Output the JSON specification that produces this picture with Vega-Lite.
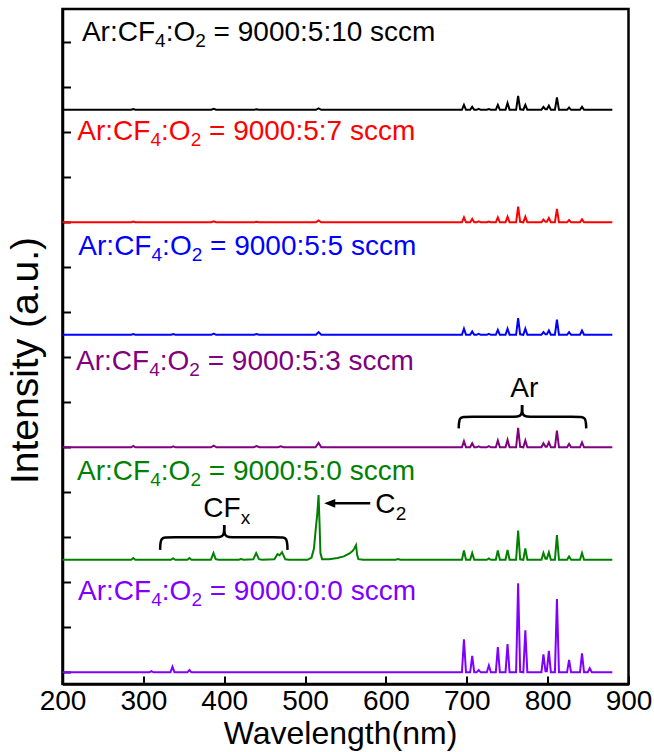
{
  "$schema": "https://vega.github.io/schema/vega-lite/v6.json",
  "width": 566,
  "height": 675,
  "autosize": {"type": "none"},
  "padding": {"left": 62.5, "top": 9, "right": 25.5, "bottom": 68},
  "background": "white",
  "config": {
    "font": "Liberation Sans",
    "view": {"stroke": "black", "strokeWidth": 2.5},
    "axis": {
      "grid": false,
      "domainColor": "black",
      "domainWidth": 2.5,
      "tickColor": "black",
      "tickWidth": 2,
      "tickSize": -8,
      "labelColor": "black",
      "labelFlush": false,
      "labelOverlap": false,
      "titleColor": "black",
      "titleFontWeight": "normal",
      "labelFont": "Liberation Sans",
      "titleFont": "Liberation Sans"
    }
  },
  "datasets": {
    "spectra": [
      {"s":"9000:5:10","wl":200,"i":25},
      {"s":"9000:5:10","wl":285,"i":25},{"s":"9000:5:10","wl":287.5,"i":25.03},{"s":"9000:5:10","wl":290,"i":25},
      {"s":"9000:5:10","wl":384,"i":25},{"s":"9000:5:10","wl":387,"i":25.04},{"s":"9000:5:10","wl":390,"i":25},
      {"s":"9000:5:10","wl":437,"i":25},{"s":"9000:5:10","wl":440,"i":25.02},{"s":"9000:5:10","wl":443,"i":25},
      {"s":"9000:5:10","wl":513.5,"i":25},{"s":"9000:5:10","wl":516.7,"i":25.06},{"s":"9000:5:10","wl":520,"i":25},
      {"s":"9000:5:10","wl":694,"i":25},{"s":"9000:5:10","wl":696.5,"i":25.22},{"s":"9000:5:10","wl":699,"i":25},
      {"s":"9000:5:10","wl":704.2,"i":25},{"s":"9000:5:10","wl":706.7,"i":25.13},{"s":"9000:5:10","wl":709.2,"i":25},
      {"s":"9000:5:10","wl":712.2,"i":25},{"s":"9000:5:10","wl":714.7,"i":25.04},{"s":"9000:5:10","wl":717.2,"i":25},
      {"s":"9000:5:10","wl":724.8,"i":25},{"s":"9000:5:10","wl":727.3,"i":25.03},{"s":"9000:5:10","wl":729.8,"i":25},
      {"s":"9000:5:10","wl":735.9,"i":25},{"s":"9000:5:10","wl":738.4,"i":25.22},{"s":"9000:5:10","wl":740.9,"i":25},
      {"s":"9000:5:10","wl":747.9,"i":25},{"s":"9000:5:10","wl":750.4,"i":25.3},{"s":"9000:5:10","wl":752.9,"i":25},
      {"s":"9000:5:10","wl":761,"i":25},{"s":"9000:5:10","wl":763.5,"i":25.62},{"s":"9000:5:10","wl":766,"i":25.02},
      {"s":"9000:5:10","wl":769.9,"i":25},{"s":"9000:5:10","wl":772.4,"i":25.22},{"s":"9000:5:10","wl":774.9,"i":25},
      {"s":"9000:5:10","wl":792.3,"i":25},{"s":"9000:5:10","wl":794.8,"i":25.13},{"s":"9000:5:10","wl":797.3,"i":25.02},
      {"s":"9000:5:10","wl":799,"i":25.02},{"s":"9000:5:10","wl":801.5,"i":25.18},{"s":"9000:5:10","wl":804,"i":25},
      {"s":"9000:5:10","wl":809,"i":25},{"s":"9000:5:10","wl":811.5,"i":25.55},{"s":"9000:5:10","wl":814,"i":25},
      {"s":"9000:5:10","wl":824,"i":25},{"s":"9000:5:10","wl":826.5,"i":25.1},{"s":"9000:5:10","wl":829,"i":25},
      {"s":"9000:5:10","wl":840,"i":25},{"s":"9000:5:10","wl":842.5,"i":25.13},{"s":"9000:5:10","wl":845,"i":25},
      {"s":"9000:5:10","wl":880,"i":25},

      {"s":"9000:5:7","wl":200,"i":20},
      {"s":"9000:5:7","wl":285,"i":20},{"s":"9000:5:7","wl":287.5,"i":20.03},{"s":"9000:5:7","wl":290,"i":20},
      {"s":"9000:5:7","wl":384,"i":20},{"s":"9000:5:7","wl":387,"i":20.04},{"s":"9000:5:7","wl":390,"i":20},
      {"s":"9000:5:7","wl":437,"i":20},{"s":"9000:5:7","wl":440,"i":20.02},{"s":"9000:5:7","wl":443,"i":20},
      {"s":"9000:5:7","wl":513.5,"i":20},{"s":"9000:5:7","wl":516.7,"i":20.08},{"s":"9000:5:7","wl":520,"i":20},
      {"s":"9000:5:7","wl":694,"i":20},{"s":"9000:5:7","wl":696.5,"i":20.22},{"s":"9000:5:7","wl":699,"i":20},
      {"s":"9000:5:7","wl":704.2,"i":20},{"s":"9000:5:7","wl":706.7,"i":20.15},{"s":"9000:5:7","wl":709.2,"i":20},
      {"s":"9000:5:7","wl":712.2,"i":20},{"s":"9000:5:7","wl":714.7,"i":20.04},{"s":"9000:5:7","wl":717.2,"i":20},
      {"s":"9000:5:7","wl":724.8,"i":20},{"s":"9000:5:7","wl":727.3,"i":20.03},{"s":"9000:5:7","wl":729.8,"i":20},
      {"s":"9000:5:7","wl":735.9,"i":20},{"s":"9000:5:7","wl":738.4,"i":20.22},{"s":"9000:5:7","wl":740.9,"i":20},
      {"s":"9000:5:7","wl":747.9,"i":20},{"s":"9000:5:7","wl":750.4,"i":20.25},{"s":"9000:5:7","wl":752.9,"i":20},
      {"s":"9000:5:7","wl":761,"i":20},{"s":"9000:5:7","wl":763.5,"i":20.7},{"s":"9000:5:7","wl":766,"i":20.02},
      {"s":"9000:5:7","wl":769.9,"i":20},{"s":"9000:5:7","wl":772.4,"i":20.25},{"s":"9000:5:7","wl":774.9,"i":20},
      {"s":"9000:5:7","wl":792.3,"i":20},{"s":"9000:5:7","wl":794.8,"i":20.12},{"s":"9000:5:7","wl":797.3,"i":20.02},
      {"s":"9000:5:7","wl":799,"i":20.02},{"s":"9000:5:7","wl":801.5,"i":20.19},{"s":"9000:5:7","wl":804,"i":20},
      {"s":"9000:5:7","wl":809,"i":20},{"s":"9000:5:7","wl":811.5,"i":20.6},{"s":"9000:5:7","wl":814,"i":20},
      {"s":"9000:5:7","wl":824,"i":20},{"s":"9000:5:7","wl":826.5,"i":20.1},{"s":"9000:5:7","wl":829,"i":20},
      {"s":"9000:5:7","wl":840,"i":20},{"s":"9000:5:7","wl":842.5,"i":20.13},{"s":"9000:5:7","wl":845,"i":20},
      {"s":"9000:5:7","wl":880,"i":20},

      {"s":"9000:5:5","wl":200,"i":15},
      {"s":"9000:5:5","wl":285,"i":15},{"s":"9000:5:5","wl":287.5,"i":15.03},{"s":"9000:5:5","wl":290,"i":15},
      {"s":"9000:5:5","wl":334.5,"i":15},{"s":"9000:5:5","wl":337,"i":15.03},{"s":"9000:5:5","wl":339.5,"i":15},
      {"s":"9000:5:5","wl":384,"i":15},{"s":"9000:5:5","wl":387,"i":15.05},{"s":"9000:5:5","wl":390,"i":15},
      {"s":"9000:5:5","wl":437,"i":15},{"s":"9000:5:5","wl":440,"i":15.03},{"s":"9000:5:5","wl":443,"i":15},
      {"s":"9000:5:5","wl":513.5,"i":15},{"s":"9000:5:5","wl":516.7,"i":15.12},{"s":"9000:5:5","wl":520,"i":15},
      {"s":"9000:5:5","wl":694,"i":15},{"s":"9000:5:5","wl":696.5,"i":15.27},{"s":"9000:5:5","wl":699,"i":15},
      {"s":"9000:5:5","wl":704.2,"i":15},{"s":"9000:5:5","wl":706.7,"i":15.15},{"s":"9000:5:5","wl":709.2,"i":15},
      {"s":"9000:5:5","wl":712.2,"i":15},{"s":"9000:5:5","wl":714.7,"i":15.04},{"s":"9000:5:5","wl":717.2,"i":15},
      {"s":"9000:5:5","wl":724.8,"i":15},{"s":"9000:5:5","wl":727.3,"i":15.04},{"s":"9000:5:5","wl":729.8,"i":15},
      {"s":"9000:5:5","wl":735.9,"i":15},{"s":"9000:5:5","wl":738.4,"i":15.22},{"s":"9000:5:5","wl":740.9,"i":15},
      {"s":"9000:5:5","wl":747.9,"i":15},{"s":"9000:5:5","wl":750.4,"i":15.27},{"s":"9000:5:5","wl":752.9,"i":15},
      {"s":"9000:5:5","wl":761,"i":15},{"s":"9000:5:5","wl":763.5,"i":15.74},{"s":"9000:5:5","wl":766,"i":15.02},
      {"s":"9000:5:5","wl":769.9,"i":15},{"s":"9000:5:5","wl":772.4,"i":15.27},{"s":"9000:5:5","wl":774.9,"i":15},
      {"s":"9000:5:5","wl":792.3,"i":15},{"s":"9000:5:5","wl":794.8,"i":15.12},{"s":"9000:5:5","wl":797.3,"i":15.02},
      {"s":"9000:5:5","wl":799,"i":15.02},{"s":"9000:5:5","wl":801.5,"i":15.19},{"s":"9000:5:5","wl":804,"i":15},
      {"s":"9000:5:5","wl":809,"i":15},{"s":"9000:5:5","wl":811.5,"i":15.67},{"s":"9000:5:5","wl":814,"i":15},
      {"s":"9000:5:5","wl":824,"i":15},{"s":"9000:5:5","wl":826.5,"i":15.12},{"s":"9000:5:5","wl":829,"i":15},
      {"s":"9000:5:5","wl":840,"i":15},{"s":"9000:5:5","wl":842.5,"i":15.19},{"s":"9000:5:5","wl":845,"i":15},
      {"s":"9000:5:5","wl":880,"i":15},

      {"s":"9000:5:3","wl":200,"i":10},
      {"s":"9000:5:3","wl":285,"i":10},{"s":"9000:5:3","wl":287.5,"i":10.06},{"s":"9000:5:3","wl":290,"i":10},
      {"s":"9000:5:3","wl":334.5,"i":10},{"s":"9000:5:3","wl":337,"i":10.04},{"s":"9000:5:3","wl":339.5,"i":10},
      {"s":"9000:5:3","wl":383.5,"i":10},{"s":"9000:5:3","wl":387,"i":10.07},{"s":"9000:5:3","wl":390.5,"i":10},
      {"s":"9000:5:3","wl":436.5,"i":10},{"s":"9000:5:3","wl":440,"i":10.05},{"s":"9000:5:3","wl":443.5,"i":10},
      {"s":"9000:5:3","wl":466.5,"i":10},{"s":"9000:5:3","wl":470,"i":10.04},{"s":"9000:5:3","wl":473.5,"i":10},
      {"s":"9000:5:3","wl":513,"i":10},{"s":"9000:5:3","wl":516.7,"i":10.2},{"s":"9000:5:3","wl":520,"i":10},
      {"s":"9000:5:3","wl":694,"i":10},{"s":"9000:5:3","wl":696.5,"i":10.27},{"s":"9000:5:3","wl":699,"i":10},
      {"s":"9000:5:3","wl":704.2,"i":10},{"s":"9000:5:3","wl":706.7,"i":10.18},{"s":"9000:5:3","wl":709.2,"i":10},
      {"s":"9000:5:3","wl":712.2,"i":10},{"s":"9000:5:3","wl":714.7,"i":10.04},{"s":"9000:5:3","wl":717.2,"i":10},
      {"s":"9000:5:3","wl":724.8,"i":10},{"s":"9000:5:3","wl":727.3,"i":10.05},{"s":"9000:5:3","wl":729.8,"i":10},
      {"s":"9000:5:3","wl":735.9,"i":10},{"s":"9000:5:3","wl":738.4,"i":10.3},{"s":"9000:5:3","wl":740.9,"i":10},
      {"s":"9000:5:3","wl":747.9,"i":10},{"s":"9000:5:3","wl":750.4,"i":10.33},{"s":"9000:5:3","wl":752.9,"i":10},
      {"s":"9000:5:3","wl":761,"i":10},{"s":"9000:5:3","wl":763.5,"i":10.86},{"s":"9000:5:3","wl":766,"i":10.02},
      {"s":"9000:5:3","wl":769.9,"i":10},{"s":"9000:5:3","wl":772.4,"i":10.3},{"s":"9000:5:3","wl":774.9,"i":10},
      {"s":"9000:5:3","wl":792.3,"i":10},{"s":"9000:5:3","wl":794.8,"i":10.18},{"s":"9000:5:3","wl":797.3,"i":10.03},
      {"s":"9000:5:3","wl":799,"i":10.03},{"s":"9000:5:3","wl":801.5,"i":10.22},{"s":"9000:5:3","wl":804,"i":10},
      {"s":"9000:5:3","wl":809,"i":10},{"s":"9000:5:3","wl":811.5,"i":10.74},{"s":"9000:5:3","wl":814,"i":10},
      {"s":"9000:5:3","wl":824,"i":10},{"s":"9000:5:3","wl":826.5,"i":10.15},{"s":"9000:5:3","wl":829,"i":10},
      {"s":"9000:5:3","wl":840,"i":10},{"s":"9000:5:3","wl":842.5,"i":10.22},{"s":"9000:5:3","wl":845,"i":10},
      {"s":"9000:5:3","wl":880,"i":10},

      {"s":"9000:5:0","wl":200,"i":5},
      {"s":"9000:5:0","wl":285,"i":5},{"s":"9000:5:0","wl":287.6,"i":5.08},{"s":"9000:5:0","wl":290,"i":5},
      {"s":"9000:5:0","wl":334,"i":5},{"s":"9000:5:0","wl":336.8,"i":5.06},{"s":"9000:5:0","wl":339.5,"i":5},
      {"s":"9000:5:0","wl":354.5,"i":5},{"s":"9000:5:0","wl":357,"i":5.08},{"s":"9000:5:0","wl":359.5,"i":5},
      {"s":"9000:5:0","wl":383.5,"i":5},{"s":"9000:5:0","wl":386.7,"i":5.3},{"s":"9000:5:0","wl":389.5,"i":5.03},{"s":"9000:5:0","wl":393,"i":5},
      {"s":"9000:5:0","wl":418,"i":5},{"s":"9000:5:0","wl":421,"i":5.03},{"s":"9000:5:0","wl":424,"i":5},
      {"s":"9000:5:0","wl":436,"i":5.02},{"s":"9000:5:0","wl":439.5,"i":5.3},{"s":"9000:5:0","wl":443,"i":5.03},{"s":"9000:5:0","wl":447,"i":5},
      {"s":"9000:5:0","wl":462,"i":5.02},{"s":"9000:5:0","wl":466,"i":5.25},{"s":"9000:5:0","wl":468.5,"i":5.2},{"s":"9000:5:0","wl":471.5,"i":5.34},{"s":"9000:5:0","wl":475.5,"i":5.02},{"s":"9000:5:0","wl":480,"i":5},
      {"s":"9000:5:0","wl":503,"i":5},{"s":"9000:5:0","wl":508,"i":5.1},{"s":"9000:5:0","wl":511,"i":5.5},{"s":"9000:5:0","wl":513,"i":6.3},{"s":"9000:5:0","wl":515,"i":7.0},{"s":"9000:5:0","wl":516.7,"i":7.88},{"s":"9000:5:0","wl":518,"i":6.5},{"s":"9000:5:0","wl":519,"i":5.3},{"s":"9000:5:0","wl":521,"i":5.03},
      {"s":"9000:5:0","wl":530,"i":5.03},{"s":"9000:5:0","wl":540,"i":5.08},{"s":"9000:5:0","wl":548,"i":5.15},{"s":"9000:5:0","wl":555,"i":5.28},{"s":"9000:5:0","wl":559,"i":5.4},{"s":"9000:5:0","wl":561,"i":5.5},{"s":"9000:5:0","wl":563,"i":5.65},{"s":"9000:5:0","wl":564.5,"i":5.2},{"s":"9000:5:0","wl":566,"i":5.03},{"s":"9000:5:0","wl":572,"i":5},
      {"s":"9000:5:0","wl":612,"i":5},{"s":"9000:5:0","wl":615,"i":5.03},{"s":"9000:5:0","wl":618,"i":5},
      {"s":"9000:5:0","wl":694,"i":5},{"s":"9000:5:0","wl":696.5,"i":5.41},{"s":"9000:5:0","wl":699,"i":5},
      {"s":"9000:5:0","wl":704.2,"i":5},{"s":"9000:5:0","wl":706.7,"i":5.3},{"s":"9000:5:0","wl":709.2,"i":5},
      {"s":"9000:5:0","wl":724.8,"i":5},{"s":"9000:5:0","wl":727.3,"i":5.06},{"s":"9000:5:0","wl":729.8,"i":5},
      {"s":"9000:5:0","wl":735.9,"i":5},{"s":"9000:5:0","wl":738.4,"i":5.41},{"s":"9000:5:0","wl":740.9,"i":5},
      {"s":"9000:5:0","wl":747.9,"i":5},{"s":"9000:5:0","wl":750.4,"i":5.44},{"s":"9000:5:0","wl":752.9,"i":5},
      {"s":"9000:5:0","wl":761,"i":5},{"s":"9000:5:0","wl":763.5,"i":6.3},{"s":"9000:5:0","wl":766,"i":5.02},
      {"s":"9000:5:0","wl":769.9,"i":5},{"s":"9000:5:0","wl":772.4,"i":5.5},{"s":"9000:5:0","wl":774.9,"i":5},
      {"s":"9000:5:0","wl":792.3,"i":5},{"s":"9000:5:0","wl":794.8,"i":5.3},{"s":"9000:5:0","wl":797.3,"i":5.05},
      {"s":"9000:5:0","wl":799,"i":5.05},{"s":"9000:5:0","wl":801.5,"i":5.33},{"s":"9000:5:0","wl":804,"i":5},
      {"s":"9000:5:0","wl":809,"i":5},{"s":"9000:5:0","wl":811.5,"i":6.1},{"s":"9000:5:0","wl":814,"i":5},
      {"s":"9000:5:0","wl":824,"i":5},{"s":"9000:5:0","wl":826.5,"i":5.15},{"s":"9000:5:0","wl":829,"i":5},
      {"s":"9000:5:0","wl":840,"i":5},{"s":"9000:5:0","wl":842.5,"i":5.3},{"s":"9000:5:0","wl":845,"i":5},
      {"s":"9000:5:0","wl":880,"i":5},

      {"s":"9000:0:0","wl":200,"i":0},
      {"s":"9000:0:0","wl":307.5,"i":0},{"s":"9000:0:0","wl":310,"i":0.05},{"s":"9000:0:0","wl":312.5,"i":0},
      {"s":"9000:0:0","wl":333.5,"i":0},{"s":"9000:0:0","wl":336,"i":0.25},{"s":"9000:0:0","wl":338.5,"i":0},
      {"s":"9000:0:0","wl":354.5,"i":0},{"s":"9000:0:0","wl":357,"i":0.1},{"s":"9000:0:0","wl":359.5,"i":0},
      {"s":"9000:0:0","wl":694,"i":0},{"s":"9000:0:0","wl":696.5,"i":1.47},{"s":"9000:0:0","wl":699,"i":0},
      {"s":"9000:0:0","wl":704.2,"i":0},{"s":"9000:0:0","wl":706.7,"i":0.73},{"s":"9000:0:0","wl":709.2,"i":0},
      {"s":"9000:0:0","wl":712.2,"i":0},{"s":"9000:0:0","wl":714.7,"i":0.1},{"s":"9000:0:0","wl":717.2,"i":0},
      {"s":"9000:0:0","wl":724.8,"i":0},{"s":"9000:0:0","wl":727.3,"i":0.3},{"s":"9000:0:0","wl":729.8,"i":0},
      {"s":"9000:0:0","wl":735.9,"i":0},{"s":"9000:0:0","wl":738.4,"i":1.12},{"s":"9000:0:0","wl":740.9,"i":0},
      {"s":"9000:0:0","wl":747.9,"i":0},{"s":"9000:0:0","wl":750.4,"i":1.26},{"s":"9000:0:0","wl":752.9,"i":0},
      {"s":"9000:0:0","wl":761,"i":0},{"s":"9000:0:0","wl":763.5,"i":3.96},{"s":"9000:0:0","wl":766,"i":0.02},
      {"s":"9000:0:0","wl":769.9,"i":0},{"s":"9000:0:0","wl":772.4,"i":1.87},{"s":"9000:0:0","wl":774.9,"i":0},
      {"s":"9000:0:0","wl":792.3,"i":0},{"s":"9000:0:0","wl":794.8,"i":0.8},{"s":"9000:0:0","wl":797.3,"i":0.05},
      {"s":"9000:0:0","wl":799,"i":0.05},{"s":"9000:0:0","wl":801.5,"i":0.95},{"s":"9000:0:0","wl":804,"i":0},
      {"s":"9000:0:0","wl":809,"i":0},{"s":"9000:0:0","wl":811.5,"i":3.26},{"s":"9000:0:0","wl":814,"i":0},
      {"s":"9000:0:0","wl":824,"i":0},{"s":"9000:0:0","wl":826.5,"i":0.55},{"s":"9000:0:0","wl":829,"i":0},
      {"s":"9000:0:0","wl":840,"i":0},{"s":"9000:0:0","wl":842.5,"i":0.84},{"s":"9000:0:0","wl":845,"i":0},
      {"s":"9000:0:0","wl":849.6,"i":0},{"s":"9000:0:0","wl":852.1,"i":0.18},{"s":"9000:0:0","wl":854.6,"i":0},
      {"s":"9000:0:0","wl":880,"i":0}
    ],
    "labels": [
      {"s":"9000:5:10","part":"main","t":"Ar:CF","wl":224,"i":28.04},
      {"s":"9000:5:10","part":"sub","t":"4","wl":314.5,"i":28.04},
      {"s":"9000:5:10","part":"main","t":":O","wl":327.6,"i":28.04},
      {"s":"9000:5:10","part":"sub","t":"2","wl":364.2,"i":28.04},
      {"s":"9000:5:10","part":"main","t":"= 9000:5:10 sccm","wl":386.9,"i":28.04},

      {"s":"9000:5:7","part":"main","t":"Ar:CF","wl":218.3,"i":23.66},
      {"s":"9000:5:7","part":"sub","t":"4","wl":308.8,"i":23.66},
      {"s":"9000:5:7","part":"main","t":":O","wl":321.9,"i":23.66},
      {"s":"9000:5:7","part":"sub","t":"2","wl":358.5,"i":23.66},
      {"s":"9000:5:7","part":"main","t":"= 9000:5:7 sccm","wl":381.2,"i":23.66},

      {"s":"9000:5:5","part":"main","t":"Ar:CF","wl":219.6,"i":18.54},
      {"s":"9000:5:5","part":"sub","t":"4","wl":310.1,"i":18.54},
      {"s":"9000:5:5","part":"main","t":":O","wl":323.2,"i":18.54},
      {"s":"9000:5:5","part":"sub","t":"2","wl":359.8,"i":18.54},
      {"s":"9000:5:5","part":"main","t":"= 9000:5:5 sccm","wl":382.5,"i":18.54},

      {"s":"9000:5:3","part":"main","t":"Ar:CF","wl":216.7,"i":13.44},
      {"s":"9000:5:3","part":"sub","t":"4","wl":307.2,"i":13.44},
      {"s":"9000:5:3","part":"main","t":":O","wl":320.3,"i":13.44},
      {"s":"9000:5:3","part":"sub","t":"2","wl":356.9,"i":13.44},
      {"s":"9000:5:3","part":"main","t":"= 9000:5:3 sccm","wl":379.6,"i":13.44},

      {"s":"9000:5:0","part":"main","t":"Ar:CF","wl":218,"i":8.55},
      {"s":"9000:5:0","part":"sub","t":"4","wl":308.5,"i":8.55},
      {"s":"9000:5:0","part":"main","t":":O","wl":321.6,"i":8.55},
      {"s":"9000:5:0","part":"sub","t":"2","wl":358.2,"i":8.55},
      {"s":"9000:5:0","part":"main","t":"= 9000:5:0 sccm","wl":380.9,"i":8.55},

      {"s":"9000:0:0","part":"main","t":"Ar:CF","wl":219.2,"i":3.21},
      {"s":"9000:0:0","part":"sub","t":"4","wl":309.7,"i":3.21},
      {"s":"9000:0:0","part":"main","t":":O","wl":322.8,"i":3.21},
      {"s":"9000:0:0","part":"sub","t":"2","wl":359.4,"i":3.21},
      {"s":"9000:0:0","part":"main","t":"= 9000:0:0 sccm","wl":382.1,"i":3.21}
    ],
    "braces": [
      {"b":"Ar-left","k":0,"wl":690,"i":10.84},{"b":"Ar-left","k":1,"wl":690.5,"i":11.36},{"b":"Ar-left","k":2,"wl":699,"i":11.36},
      {"b":"Ar-left","k":3,"wl":759,"i":11.36},{"b":"Ar-left","k":4,"wl":768.4,"i":11.36},{"b":"Ar-left","k":5,"wl":768.4,"i":11.88},
      {"b":"Ar-right","k":0,"wl":768.4,"i":11.88},{"b":"Ar-right","k":1,"wl":768.4,"i":11.36},{"b":"Ar-right","k":2,"wl":777.8,"i":11.36},
      {"b":"Ar-right","k":3,"wl":838,"i":11.36},{"b":"Ar-right","k":4,"wl":847.2,"i":11.36},{"b":"Ar-right","k":5,"wl":847.7,"i":10.84},
      {"b":"CF-left","k":0,"wl":320.7,"i":5.44},{"b":"CF-left","k":1,"wl":321.2,"i":6.0},{"b":"CF-left","k":2,"wl":330,"i":6.0},
      {"b":"CF-left","k":3,"wl":391,"i":6.0},{"b":"CF-left","k":4,"wl":400,"i":6.0},{"b":"CF-left","k":5,"wl":400,"i":6.55},
      {"b":"CF-right","k":0,"wl":400,"i":6.55},{"b":"CF-right","k":1,"wl":400,"i":6.0},{"b":"CF-right","k":2,"wl":409,"i":6.0},
      {"b":"CF-right","k":3,"wl":469.5,"i":6.0},{"b":"CF-right","k":4,"wl":477.8,"i":6.0},{"b":"CF-right","k":5,"wl":478.3,"i":5.44}
    ],
    "notes": [
      {"part":"main","t":"Ar","wl":753.9,"i":12.25},
      {"part":"main","t":"CF","wl":374,"i":6.92},
      {"part":"sub","t":"x","wl":420.5,"i":6.92},
      {"part":"main","t":"C","wl":586.8,"i":7.07},
      {"part":"sub","t":"2","wl":612,"i":7.07}
    ],
    "arrow": [
      {"wl":534,"wl2":580.6,"i":7.51,"head":530.5}
    ]
  },
  "layer": [
    {
      "data": {"name": "spectra"},
      "mark": {"type": "line", "strokeWidth": 2, "interpolate": "linear"},
      "encoding": {
        "x": {
          "field": "wl", "type": "quantitative",
          "scale": {"domain": [200, 900], "nice": false, "zero": false},
          "axis": {
            "title": "Wavelength(nm)",
            "values": [200, 300, 400, 500, 600, 700, 800, 900],
            "labelFontSize": 28,
            "labelPadding": 11,
            "titleFontSize": 32,
            "titleX": 277.5,
            "titleY": 59,
            "titleBaseline": "alphabetic",
            "titleAlign": "center"
          }
        },
        "y": {
          "field": "i", "type": "quantitative",
          "scale": {"domain": [-0.52, 29.48], "nice": false, "zero": false},
          "axis": {
            "title": "Intensity (a.u.)",
            "values": [0,1,2,3,4,5,6,7,8,9,10,11,12,13,14,15,16,17,18,19,20,21,22,23,24,25,26,27,28,29],
            "labels": false,
            "titleFontSize": 39,
            "titleAngle": -90,
            "titleX": -25.5,
            "titleY": 351,
            "titleBaseline": "alphabetic",
            "titleAlign": "center"
          }
        },
        "color": {
          "field": "s", "type": "nominal", "legend": null,
          "scale": {
            "domain": ["9000:5:10", "9000:5:7", "9000:5:5", "9000:5:3", "9000:5:0", "9000:0:0"],
            "range": ["#000000", "#FF0000", "#0000FF", "#800080", "#008000", "#8000FF"]
          }
        },
        "detail": {"field": "s"}
      }
    },
    {
      "data": {"name": "labels"},
      "transform": [{"filter": "datum.part === 'main'"}],
      "mark": {"type": "text", "align": "left", "baseline": "alphabetic", "fontSize": 28},
      "encoding": {
        "x": {"field": "wl", "type": "quantitative"},
        "y": {"field": "i", "type": "quantitative"},
        "text": {"field": "t"},
        "color": {"field": "s", "type": "nominal", "legend": null}
      }
    },
    {
      "data": {"name": "labels"},
      "transform": [{"filter": "datum.part === 'sub'"}],
      "mark": {"type": "text", "align": "left", "baseline": "alphabetic", "fontSize": 19, "dy": 6},
      "encoding": {
        "x": {"field": "wl", "type": "quantitative"},
        "y": {"field": "i", "type": "quantitative"},
        "text": {"field": "t"},
        "color": {"field": "s", "type": "nominal", "legend": null}
      }
    },
    {
      "data": {"name": "braces"},
      "mark": {"type": "line", "interpolate": "basis", "stroke": "black", "strokeWidth": 2.5},
      "encoding": {
        "x": {"field": "wl", "type": "quantitative"},
        "y": {"field": "i", "type": "quantitative"},
        "detail": {"field": "b"},
        "order": {"field": "k"}
      }
    },
    {
      "data": {"name": "arrow"},
      "mark": {"type": "rule", "stroke": "black", "strokeWidth": 2.5},
      "encoding": {
        "x": {"field": "wl", "type": "quantitative"},
        "x2": {"field": "wl2"},
        "y": {"field": "i", "type": "quantitative"}
      }
    },
    {
      "data": {"name": "arrow"},
      "mark": {"type": "point", "shape": "M -1 0 L 1 -0.8 L 1 0.8 Z", "size": 121, "filled": true, "color": "black", "opacity": 1},
      "encoding": {
        "x": {"field": "head", "type": "quantitative"},
        "y": {"field": "i", "type": "quantitative"}
      }
    },
    {
      "data": {"name": "notes"},
      "transform": [{"filter": "datum.part === 'main'"}],
      "mark": {"type": "text", "align": "left", "baseline": "alphabetic", "fontSize": 28, "color": "black"},
      "encoding": {
        "x": {"field": "wl", "type": "quantitative"},
        "y": {"field": "i", "type": "quantitative"},
        "text": {"field": "t"}
      }
    },
    {
      "data": {"name": "notes"},
      "transform": [{"filter": "datum.part === 'sub'"}],
      "mark": {"type": "text", "align": "left", "baseline": "alphabetic", "fontSize": 19, "dy": 7, "color": "black"},
      "encoding": {
        "x": {"field": "wl", "type": "quantitative"},
        "y": {"field": "i", "type": "quantitative"},
        "text": {"field": "t"}
      }
    }
  ]
}
